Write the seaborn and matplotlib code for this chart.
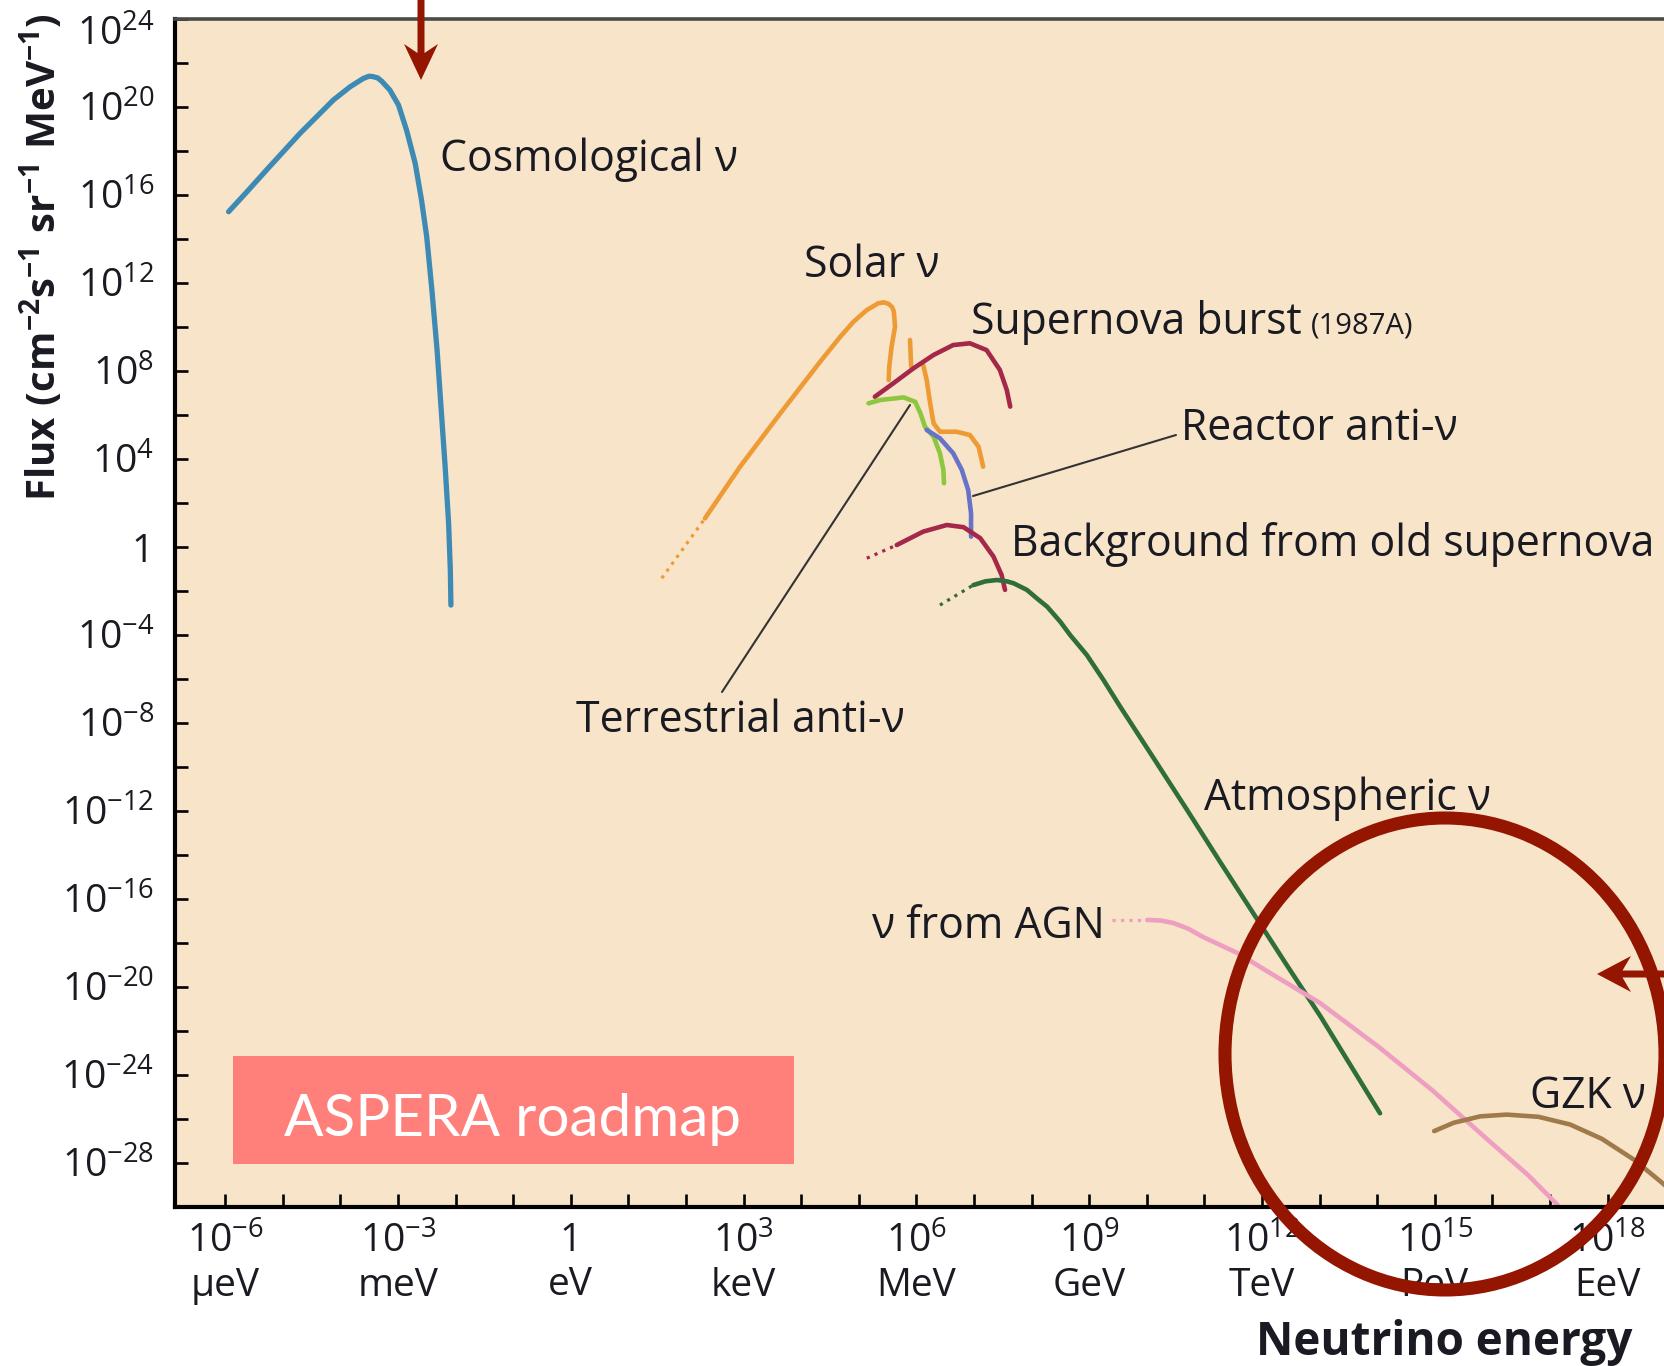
import numpy as np
import pandas as pd
import matplotlib
matplotlib.use("Agg")
import matplotlib.pyplot as plt
import matplotlib.transforms as mtransforms
import seaborn as sns
from matplotlib.patches import Ellipse, FancyArrow, Rectangle

# values, as log10(energy / eV) and log10(flux)
cosmo_logE = [-5.94, -5.62, -5.28, -4.99, -4.70, -4.41, -4.12, -3.83, -3.60, -3.50, -3.43, -3.35, -3.28,
              -3.14, -2.99, -2.85, -2.70, -2.59, -2.50, -2.41, -2.32, -2.24, -2.18, -2.12, -2.09, -2.08]
cosmo_logF = [15.24, 16.15, 17.14, 17.97, 18.80, 19.56, 20.32, 20.92, 21.30, 21.40, 21.38, 21.32, 21.17,
              20.77, 20.09, 18.95, 17.44, 15.77, 14.10, 11.68, 8.95, 5.92, 3.65, 1.08, -1.05, -2.64]

solar_dot_logE = [1.58, 2.33]
solar_dot_logF = [-1.42, 1.30]
solar_pp_logE = [2.33, 2.94, 3.64, 4.33, 4.68, 4.91, 5.14, 5.34, 5.44, 5.52, 5.58, 5.61, 5.63, 5.57, 5.53, 5.52]
solar_pp_logF = [1.30, 3.65, 6.08, 8.42, 9.56, 10.24, 10.77, 11.08, 11.12, 11.05, 10.90, 10.70, 10.01, 9.10,
                 8.20, 7.59]
solar_line_logE = [5.89, 5.91]
solar_line_logF = [9.41, 8.20]
solar_b8_logE = [6.12, 6.18, 6.24, 6.30, 6.41, 6.70, 6.93, 7.08, 7.16]
solar_b8_logF = [8.27, 7.59, 6.53, 5.62, 5.24, 5.24, 5.09, 4.56, 3.65]

burst_logE = [5.28, 5.60, 5.95, 6.30, 6.64, 6.93, 7.22, 7.45, 7.57, 7.63]
burst_logF = [6.83, 7.44, 8.12, 8.73, 9.18, 9.26, 8.95, 8.05, 7.14, 6.38]

terr_logE = [5.17, 5.37, 5.78, 5.98, 6.07, 6.15, 6.30, 6.41, 6.47, 6.48]
terr_logF = [6.53, 6.68, 6.80, 6.60, 6.08, 5.47, 5.01, 4.26, 3.50, 2.90]

reactor_logE = [6.18, 6.41, 6.64, 6.79, 6.90, 6.95, 6.95]
reactor_logF = [5.32, 4.94, 4.26, 3.50, 2.59, 1.53, 0.47]

oldsn_dot_logE = [5.14, 5.66]
oldsn_dot_logF = [-0.51, 0.09]
oldsn_logE = [5.66, 6.12, 6.53, 6.82, 7.11, 7.34, 7.48, 7.54]
oldsn_logF = [0.09, 0.70, 1.00, 0.90, 0.40, -0.44, -1.27, -1.95]

atm_dot_logE = [6.41, 6.99]
atm_dot_logF = [-2.64, -1.73]
atm_logE = [6.99, 7.20, 7.40, 7.57, 7.69, 7.92, 8.09, 8.27, 8.50, 8.67, 8.96, 9.25, 9.54, 10.12, 10.70,
            11.27, 11.85, 12.43, 13.02, 14.05]
atm_logF = [-1.73, -1.56, -1.50, -1.56, -1.65, -1.95, -2.33, -2.71, -3.40, -4.00, -4.91, -6.05, -7.26,
            -9.60, -11.95, -14.30, -16.65, -19.00, -21.35, -25.74]

agn_dot_logE = [9.40, 10.01]
agn_dot_logF = [-16.95, -16.95]
agn_logE = [10.01, 10.25, 10.46, 10.72, 10.98, 11.57, 12.14, 13.01, 14.04, 14.96, 15.88, 16.62, 17.13]
agn_logF = [-16.95, -16.98, -17.09, -17.35, -17.73, -18.45, -19.36, -20.73, -22.75, -24.70, -26.85,
            -28.55, -29.90]

gzk_logE = [14.99, 15.33, 15.79, 16.25, 16.80, 17.35, 17.90, 18.46, 18.97, 19.30]
gzk_logF = [-26.55, -26.17, -25.88, -25.80, -25.90, -26.25, -26.90, -27.85, -28.95, -29.80]

x_tick_exp = [-6, -3, 0, 3, 6, 9, 12, 15, 18]
x_tick_unit = ["μeV", "meV", "eV", "keV", "MeV", "GeV", "TeV", "PeV", "EeV"]
y_tick_exp = [24, 20, 16, 12, 8, 4, 0, -4, -8, -12, -16, -20, -24, -28]

peach = "#F8E4C8"
red = "#941500"
ink = "#1a1a22"

sns.set_style("ticks")
plt.rcParams["font.family"] = ["Open Sans", "DejaVu Sans"]
plt.rcParams["mathtext.fontset"] = "custom"
plt.rcParams["mathtext.rm"] = "Open Sans"
plt.rcParams["mathtext.bf"] = "Open Sans:bold"
plt.rcParams["mathtext.it"] = "Open Sans:italic"

W, H = 1664, 1366
fig = plt.figure(figsize=(W / 100, H / 100), dpi=100)
fig.patch.set_facecolor("white")
ax = fig.add_axes([175 / W, 159 / H, 1 - 175 / W, 1188 / H])
ax.set_facecolor(peach)
ax.set_xscale("log")
ax.set_yscale("log")


def curve(le, lf, color, lw=3.3, ls="-"):
    d = pd.DataFrame({"E": np.power(10.0, le), "F": np.power(10.0, lf)})
    sns.lineplot(data=d, x="E", y="F", sort=False, estimator=None, color=color, lw=lw,
                 linestyle=ls, solid_capstyle="round", solid_joinstyle="round", ax=ax)


curve(cosmo_logE, cosmo_logF, "#3D8BB4", lw=3.8)
curve(solar_dot_logE, solar_dot_logF, "#EE9A35", lw=2.3, ls=":")
curve(solar_pp_logE, solar_pp_logF, "#EE9A35")
curve(solar_line_logE, solar_line_logF, "#EE9A35")
curve(solar_b8_logE, solar_b8_logF, "#EE9A35")
curve(burst_logE, burst_logF, "#A3284A")
curve(terr_logE, terr_logF, "#8DC63F")
curve(reactor_logE, reactor_logF, "#6673C8")
curve(oldsn_dot_logE, oldsn_dot_logF, "#A3284A", lw=2.3, ls=":")
curve(oldsn_logE, oldsn_logF, "#A3284A")
curve(atm_dot_logE, atm_dot_logF, "#2F6E3A", lw=2.3, ls=":")
curve(atm_logE, atm_logF, "#2F6E3A")
curve(agn_dot_logE, agn_dot_logF, "#EE9EC0", lw=2.3, ls=":")
curve(agn_logE, agn_logF, "#EE9EC0")
curve(gzk_logE, gzk_logF, "#A07A4A")

ax.set_xlim(10 ** -6.87, 10 ** 18.98)
ax.set_ylim(1e-30, 1e24)
ax.set_xlabel("")
ax.set_ylabel("")

xt = [10.0 ** k for k in range(-6, 19)]
ax.set_xticks(xt)
ax.set_xticklabels([("$\\mathregular{10^{%d}}$\n%s" % (k, x_tick_unit[x_tick_exp.index(k)])
                     if k != 0 else "1\neV") if k in x_tick_exp else "" for k in range(-6, 19)])
yt = [10.0 ** k for k in range(-28, 25, 2)]
ax.set_yticks(yt)
ax.set_yticklabels([("$\\mathregular{10^{%d}}$" % k if k != 0 else "1") if k in y_tick_exp else ""
                    for k in range(-28, 25, 2)])
ax.minorticks_off()
ax.tick_params(axis="both", direction="in", length=9.5, width=1.9, color="black",
               labelsize=28, labelcolor=ink, top=False, right=False)
ax.tick_params(axis="y", pad=15)
ax.tick_params(axis="x", pad=11)

# the top label sits a little lower so it stays inside the picture
top_lab = ax.get_yticklabels()[-1]
top_lab.set_transform(top_lab.get_transform() +
                      mtransforms.ScaledTranslation(0, -8 / 72, fig.dpi_scale_trans))

for s in ["left", "bottom"]:
    ax.spines[s].set_linewidth(3.0)
    ax.spines[s].set_color("black")
ax.spines["top"].set_linewidth(2.6)
ax.spines["top"].set_color("#4a4a4a")
ax.spines["right"].set_visible(False)

# overlay in pixel units for labels and slide annotations
ov = fig.add_axes([0, 0, 1, 1], facecolor="none")
ov.set_xlim(0, W)
ov.set_ylim(H, 0)
ov.axis("off")

labels = [
    ("Cosmological ν", 440, 171),
    ("Solar ν", 804, 277),
    ("Supernova burst", 971, 334),
    ("Reactor anti-ν", 1181, 440),
    ("Background from old supernova", 1011, 556),
    ("Terrestrial anti-ν", 576, 732),
    ("Atmospheric ν", 1204, 810),
    ("ν from AGN", 872, 938),
    ("GZK ν", 1530, 1108),
]
for txt, x, y in labels:
    ov.text(x, y, txt, fontsize=30.8, color=ink, ha="left", va="baseline")
ov.text(1311, 334, "(1987A)", fontsize=21, color=ink, ha="left", va="baseline")

ov.plot([1176, 973], [435, 496], color="#333333", lw=1.5)
ov.plot([722, 910], [692, 405], color="#333333", lw=1.5)

ov.text(42, 257, r"$\mathbf{Flux\ (cm^{-2}s^{-1}\ sr^{-1}\ MeV^{-1})}$", fontsize=29,
        rotation=90, ha="center", va="center", color=ink)
ov.text(1632, 1342, "Neutrino energy", fontsize=33, fontweight="bold", color=ink,
        ha="right", va="center")

ov.add_patch(Rectangle((233, 1056), 561, 108, facecolor="#FF7F7A", edgecolor="none"))
ov.text(513, 1136, "ASPERA roadmap", fontsize=42, color="white", family="Lato",
        ha="center", va="baseline")

ov.add_patch(Ellipse((1445, 1054), 440, 472, fill=False, edgecolor=red, lw=9.4))
ov.add_patch(FancyArrow(421, -5, 0, 85, width=7, head_width=34, head_length=36,
                        length_includes_head=True, overhang=0.25, color=red, lw=0))
ov.add_patch(FancyArrow(1672, 974, -75, 0, width=7, head_width=36, head_length=34,
                        length_includes_head=True, overhang=0.25, color=red, lw=0))

fig.savefig("out.png", dpi=100, facecolor="white")
